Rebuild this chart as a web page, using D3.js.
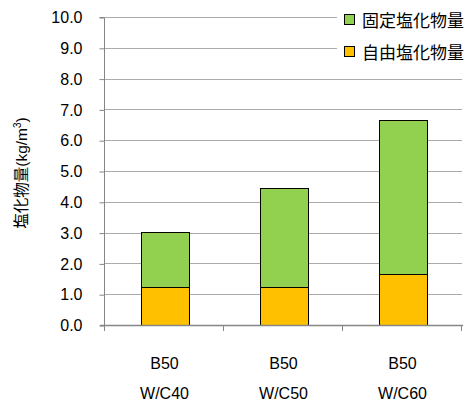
<!DOCTYPE html>
<html>
<head>
<meta charset="utf-8">
<script src="https://cdn.jsdelivr.net/npm/d3@7"></script>
<style>
  html, body { margin: 0; padding: 0; background: #fff; }
  svg text { font-family: "Liberation Sans", Arial, "Noto Sans CJK JP", sans-serif; fill: #000; }
</style>
</head>
<body>
<svg id="chart" width="471" height="404"></svg>
<script>
// Chloride content per mix: free + fixed stacked
const categories = ["B50|W/C40", "B50|W/C50", "B50|W/C60"];
const freeChloride = [1.24, 1.24, 1.67];   // 自由塩化物量
const fixedChloride = [1.78, 3.22, 4.98];  // 固定塩化物量
const seriesNames = ["自由塩化物量", "固定塩化物量"];
const seriesColors = ["#FFC000", "#92D050"];
const yTicks = [0, 1, 2, 3, 4, 5, 6, 7, 8, 9, 10];
const yTitle = "塩化物量(kg/m";

const svg = d3.select("#chart");
const plotLeft = 105, plotRight = 462, plotTop = 17, plotBottom = 325;

const x = d3.scaleBand().domain(categories).range([plotLeft, plotRight])
  .paddingInner(0.6).paddingOuter(0.3);
const y = d3.scaleLinear().domain([0, 10]).range([plotBottom, plotTop]);

// horizontal gridlines
svg.append("g").selectAll("line").data(yTicks.filter(d => d > 0)).join("line")
  .attr("x1", plotLeft).attr("x2", plotRight)
  .attr("y1", d => Math.round(y(d)) + 0.5).attr("y2", d => Math.round(y(d)) + 0.5)
  .attr("stroke", "#ABABAB").attr("stroke-width", 1);

// stacked bars
const rows = categories.map((c, i) => ({ cat: c, free: freeChloride[i], fixed: fixedChloride[i] }));
const stack = d3.stack().keys(["free", "fixed"])(rows);
svg.append("g").selectAll("g").data(stack).join("g")
  .attr("fill", (d, i) => seriesColors[i])
  .selectAll("rect").data(d => d).join("rect")
  .attr("x", d => Math.round(x(d.data.cat)) + 0.5)
  .attr("width", Math.round(x.bandwidth()))
  .attr("y", d => Math.round(y(d[1])) + 0.5)
  .attr("height", d => Math.round(y(d[0])) - Math.round(y(d[1])))
  .attr("stroke", "#000").attr("stroke-width", 1);

// y axis
const yAxis = d3.axisLeft(y).tickValues(yTicks).tickSize(5).tickPadding(17)
  .tickFormat(d3.format(".1f"));
const ya = svg.append("g").attr("transform", `translate(${plotLeft - 0.5},0.5)`).call(yAxis);
ya.select(".domain").attr("stroke", "#868686").attr("d", `M-5,${Math.round(y(10))}H0V${Math.round(y(0)) + 3}`);
ya.selectAll(".tick line").attr("stroke", "#868686");
ya.selectAll(".tick text").attr("font-size", 16).attr("fill", "#000")
  .attr("font-family", "'Liberation Sans', Arial, sans-serif");

// x axis baseline and category boundary ticks
const xa = svg.append("g");
xa.append("line").attr("x1", plotLeft - 5).attr("x2", plotRight + 1)
  .attr("y1", plotBottom + 0.5).attr("y2", plotBottom + 0.5)
  .attr("stroke", "#868686").attr("stroke-width", 1.5);
const bounds = [plotLeft, ...categories.map(c => x(c) - x.step() * x.paddingInner() / 2 + x.step())];
bounds[bounds.length - 1] = plotRight;
xa.selectAll("line.b").data(bounds).join("line").attr("class", "b")
  .attr("x1", d => Math.round(d) - 0.5).attr("x2", d => Math.round(d) - 0.5)
  .attr("y1", plotBottom).attr("y2", plotBottom + 6)
  .attr("stroke", "#868686").attr("stroke-width", 1);

// category labels (two lines)
const labels = xa.selectAll("text").data(categories).join("text")
  .attr("text-anchor", "middle").attr("font-size", 16)
  .attr("transform", d => `translate(${x(d) + x.bandwidth() / 2},0)`);
labels.append("tspan").attr("x", 0).attr("y", 369).text(d => d.split("|")[0]);
labels.append("tspan").attr("x", 0).attr("y", 399).text(d => d.split("|")[1]);

// y title
const t = svg.append("text").attr("transform", "translate(27,173) rotate(-90)")
  .attr("text-anchor", "middle").attr("font-size", 15.5);
t.append("tspan").text(yTitle);
t.append("tspan").attr("font-size", 10).attr("dy", -6).text("3");
t.append("tspan").attr("dy", 6).text(")");

// legend
const lg = svg.append("g");
lg.append("rect").attr("x", 337).attr("y", 0).attr("width", 134).attr("height", 68).attr("fill", "#fff");
const items = [{ name: seriesNames[1], color: seriesColors[1] }, { name: seriesNames[0], color: seriesColors[0] }];
const li = lg.selectAll("g.item").data(items).join("g").attr("class", "item")
  .attr("transform", (d, i) => `translate(0,${20 + i * 32})`);
li.append("rect").attr("x", 344.5).attr("y", -5.5).attr("width", 10).attr("height", 10)
  .attr("fill", d => d.color).attr("stroke", "#000").attr("stroke-width", 1);
li.append("text").attr("x", 362).attr("y", 6.5).attr("font-size", 17)
  .attr("font-family", "'Noto Sans CJK JP', sans-serif").text(d => d.name);
</script>
</body>
</html>
